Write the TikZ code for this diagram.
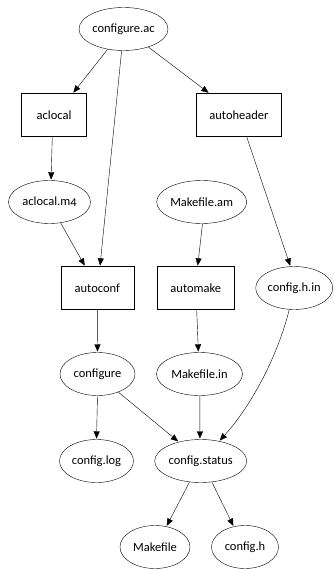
\documentclass[tikz,border=0pt]{standalone}
\usepackage{fontspec}
\setmainfont{Carlito}[Numbers=OldStyle]
\usetikzlibrary{shapes}
\usetikzlibrary{arrows.meta}

\begin{document}
\begin{tikzpicture}[x=1pt,y=-1pt]
\useasboundingbox (0,0) rectangle (333,569);

\tikzset{>={Triangle[length=8pt,width=6.5pt]}, line width=.8pt}
\tikzstyle{block} = [
	draw, rectangle, inner sep=0pt,
	minimum height=43pt, font=\fontsize{12.5}{14}\selectfont ];
\tikzstyle{file} = [
	draw, ellipse, inner sep=0pt,
	minimum height=43pt, font=\fontsize{12.5}{14}\selectfont ];

\node[file,minimum width=89pt] (cac) at (123.5,29) { configure.ac };
\node[block,minimum width=65pt] (aclocal) at (54,115) { aclocal };
\node[block,minimum width=85pt] (autoheader) at (239,115) { autoheader };
\node[file,minimum width=82pt] (m4) at (49.5,202) { aclocal.m4 };
\node[file,minimum width=90pt] (mam) at (201.7,202) { Makefile.am };
\node[block,minimum width=73pt] (autoconf) at (97.3,288) { autoconf };
\node[block,minimum width=77pt] (automake) at (195.8,288) { automake };
\node[file,minimum width=77pt] (chin) at (294.2,288) { config.h.in };
\node[file,minimum width=75pt] (configure) at (97.5,374) { configure };
\node[file,minimum width=86pt] (min) at (199.5,374) { Makefile.in };
\node[file,minimum width=74pt] (clog) at (96.5,461) { config.log };
\node[file,minimum width=92pt] (cstatus) at (200.7,461) { config.status };
\node[file,minimum width=70pt] (makefile) at (155,547) { Makefile };
\node[file,minimum width=67pt] (configh) at (245,547) { config.h };

\draw[->] (cac.-128) -- ([xshift=19pt]aclocal.north);
\draw[->] (cac.-95) -- ([xshift=2.7pt]autoconf.north);
\draw[->] (cac.-36) -- ([xshift=-30pt]autoheader.north);
\draw[->] ([xshift=-1.7pt]aclocal.south) -- (m4.86);
\draw[->] (m4.-62) -- ([xshift=-12.3pt]autoconf.north);
\draw[->] ([xshift=7.7pt]autoheader.south) -- (chin.100);
\draw[->] (mam.-88) -- ([xshift=1.9pt]automake.north);
\draw[->] (autoconf.south) -- (configure.north);
\draw[->] ([xshift=.9pt]automake.south) -- (min.93);
\draw[->] (chin.-103) .. controls (278,355) and (252,405) .. (cstatus.47);
\draw[->] (configure.-90) -- (clog.90);
\draw[->] (configure.-41) -- (cstatus.139);
\draw[->] (min.-89) -- (cstatus.92);
\draw[->] (cstatus.-118) -- (makefile.61);
\draw[->] (cstatus.-62) -- (configh.119);

\end{tikzpicture}
\end{document}
